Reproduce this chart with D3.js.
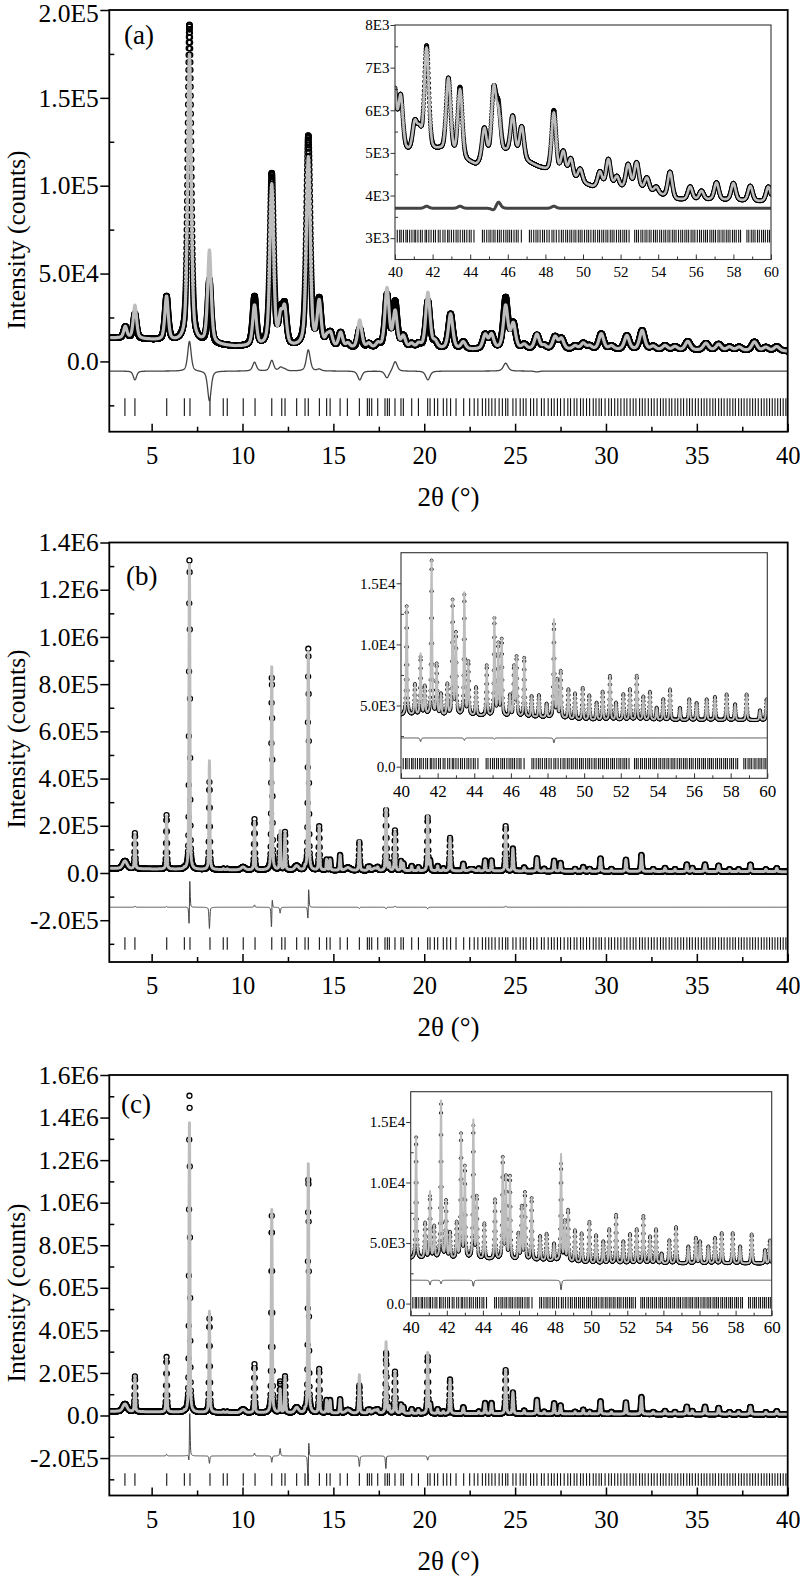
<!DOCTYPE html>
<html><head><meta charset="utf-8">
<script src="https://cdn.jsdelivr.net/npm/d3@7"></script>
<style>
body{margin:0;background:#fff}
svg{display:block}
svg text{font-family:"Liberation Serif","Times New Roman",Times,serif !important}
</style>
</head><body>
<svg id="chart" width="800" height="1582"></svg>
<script>
// ================= DATA =================
// Bragg reflection positions (2theta, deg), same phase in all panels
const braggMain = [3.53,4.08,5.83,6.80,7.11,8.21,8.94,9.16,10.04,10.69,11.61,12.16,12.34,12.98,13.44,13.62,14.23,14.63,14.82,15.37,15.77,16.43,16.87,16.98,17.11,17.44,17.84,17.97,18.08,18.39,18.72,18.85,19.31,19.68,20.19,20.32,20.56,20.74,21.05,21.24,21.45,21.75,22.17,22.5,22.75,22.95,23.2,23.38,23.55,23.72,23.9,24.12,24.3,24.48,24.6,24.88,25.05,25.28,25.45,25.6,25.85,26.02,26.2,26.45,26.6,26.82,27.0,27.15,27.33,27.5,27.7,27.9,28.05,28.25,28.4,28.6,28.75,28.93,29.1,29.3,29.45,29.62,29.75,29.95,30.15,30.3,30.48,30.65,30.82,31.0,31.15,31.33,31.5,31.65,31.85,32.0,32.15,32.33,32.5,32.65,32.82,33.0,33.15,33.3,33.48,33.62,33.8,33.95,34.12,34.27,34.45,34.6,34.75,34.92,35.08,35.25,35.4,35.55,35.72,35.88,36.02,36.2,36.35,36.5,36.67,36.82,36.98,37.12,37.3,37.45,37.6,37.76,37.92,38.07,38.22,38.38,38.55,38.7,38.85,39.0,39.15,39.3,39.45,39.6,39.75,39.9];
const braggInset = [40.12,40.25,40.33,40.45,40.58,40.66,40.78,40.9,41.02,41.1,41.22,41.35,41.45,41.6,41.68,41.8,41.92,42.05,42.15,42.3,42.4,42.55,42.66,42.8,42.88,43.0,43.12,43.25,43.35,43.47,43.6,43.7,43.82,43.95,44.05,44.2,44.65,44.75,44.88,45.0,45.1,45.22,45.32,45.45,45.55,45.65,45.78,45.9,46.0,46.1,46.2,46.33,46.45,46.55,46.72,47.15,47.25,47.38,47.5,47.6,47.72,47.85,47.95,48.08,48.2,48.35,48.45,48.58,48.72,48.85,48.95,49.08,49.18,49.3,49.4,49.52,49.62,49.75,49.85,49.95,50.08,50.2,50.3,50.42,50.55,50.65,50.78,50.88,51.0,51.1,51.22,51.32,51.45,51.55,51.65,51.78,51.9,52.0,52.12,52.22,52.32,52.45,52.75,52.85,52.95,53.08,53.18,53.3,53.4,53.52,53.62,53.75,53.85,53.95,54.08,54.18,54.3,54.4,54.52,54.62,54.75,54.85,54.95,55.08,55.2,55.3,55.42,55.52,55.62,55.75,55.85,55.95,56.08,56.2,56.3,56.42,56.52,56.62,56.75,56.85,56.95,57.05,57.18,57.28,57.4,57.5,57.62,57.72,57.82,57.95,58.05,58.15,58.28,58.38,58.72,58.82,58.95,59.05,59.15,59.28,59.38,59.5,59.6,59.7,59.82,59.92];

// ---- Panel (a) main: background + peaks (counts above background)
const bgA_x = [2.67, 4.9, 6.5, 9.6, 12, 16, 22.6, 30, 35, 40];
const bgA_y = [13500, 12300, 10800, 8300, 7800, 7000, 6600, 6500, 6200, 5800];
const peakPosA  = [3.55,4.08,5.82,7.08,8.18,10.66,11.61,12.1,12.32,13.62,14.22,14.65,14.85,15.4,15.8,16.45,16.95,17.45,17.95,18.4,18.85,19.3,19.7,20.2,20.6,21.45,22.15,23.35,23.7,24.48,24.9,25.5,26.2,26.6,27.2,27.55,28.3,28.75,29.1,29.74,30.3,31.15,31.99,32.6,33.25,33.8,34.5,35.5,36.2,36.8,37.33,38.17,38.8,39.4];
const peakObsA  = [6500,14000,25000,181000,36000,28000,98000,17000,21000,120000,26000,5000,7000,8500,2500,11000,2500,2500,30000,26000,6500,2500,2500,27000,3500,20000,4000,8000,8000,29000,14000,2500,8000,2000,7000,6000,2000,3500,2000,9000,2000,8000,11000,2000,2500,2000,5000,4000,3500,2000,2000,5000,2000,2500];
const peakCalcA = [6500,19000,25000,164000,53000,23000,92000,15000,20000,108000,25000,5000,7000,8500,2500,16000,2500,2500,34000,20500,6500,2500,2500,32000,3500,20000,4000,8000,8000,24500,14000,2500,8500,2000,7000,6000,2000,3500,2000,9000,2000,8000,11000,2000,2500,2000,5000,4000,3500,2000,2000,5000,2000,2500];

// ---- Panel (a) inset 40-60
const bgIA_x = [40, 41, 42.4, 44.3, 45.9, 47.7, 50.5, 53, 55, 57, 60];
const bgIA_y = [5050, 5000, 5050, 4700, 5000, 4650, 4200, 4150, 3900, 3900, 3850];
const peakPosIA  = [39.95,40.3,41.05,41.3,41.68,42.84,43.46,44.75,45.25,45.5,46.26,46.74,48.45,48.95,49.35,49.85,50.9,51.35,51.8,52.4,52.85,53.4,53.9,54.63,55.7,56.3,57.1,58.0,58.9,59.86];
const peakObsIA  = [1500,1250,650,450,2450,1750,1650,750,1500,1050,900,750,1450,550,450,300,350,650,250,550,600,300,150,600,300,200,400,400,350,350];
const peakCalcIA = [1500,1250,650,450,2400,1750,1600,750,1550,900,900,750,1400,550,450,300,350,650,250,550,600,300,150,600,300,200,400,400,350,350];

// ---- Panel (b) main
const bgB_x = [2.67, 5, 10, 15, 20, 30, 40];
const bgB_y = [20000, 17000, 13000, 11000, 9000, 7000, 5500];
const peakPosB  = [4.08,5.82,6.8,7.08,8.18,8.95,9.16,10.66,11.61,12.07,12.34,13.44,13.62,14.22,14.63,14.82,15.37,16.43,16.9,17.0,17.44,17.9,18.08,18.39,18.72,18.85,19.31,19.68,20.19,20.32,20.74,21.05,21.42,22.15,23.0,23.35,23.7,24.48,24.88,25.5,26.2,26.6,27.15,27.5,28.3,28.75,29.1,29.7,30.3,31.1,31.95,32.6,33.25,33.8,34.45,34.75,35.45,36.2,36.8,37.3,37.95,38.8,39.4];
const peakObsB  = [150000,228000,5000,1320000,370000,4000,4000,215000,820000,140000,160000,12000,945000,185000,45000,45000,65000,120000,15000,15000,10000,255000,30000,170000,40000,30000,20000,15000,225000,40000,20000,10000,140000,30000,10000,45000,45000,190000,95000,15000,55000,10000,45000,35000,10000,18000,10000,55000,10000,50000,70000,10000,15000,10000,30000,15000,30000,25000,10000,10000,30000,10000,15000];
const peakCalcB = [145000,225000,5000,1290000,460000,4000,4000,205000,860000,165000,160000,12000,925000,185000,45000,45000,65000,125000,15000,15000,10000,262000,30000,165000,40000,30000,20000,15000,232000,40000,20000,10000,140000,30000,10000,45000,45000,185000,95000,15000,55000,10000,45000,35000,10000,18000,10000,55000,10000,50000,70000,10000,15000,10000,30000,15000,30000,25000,10000,10000,30000,10000,15000];
const shiftPosB = [7.08, 11.61, 13.62];
const shiftValB = [0.003, 0.003, 0.003];
const broadPosB = [3.53, 10.03, 12.98, 15.8, 17.3, 22.6];
const broadHB   = [32000, 12000, 18000, 12000, 10000, 8000];
const broadWB   = [0.28, 0.25, 0.25, 0.3, 0.3, 0.3];

// ---- Panel (b) inset 40-60
const bgIB_x = [40, 44, 48, 50, 55, 60];
const bgIB_y = [4200, 4150, 4000, 3800, 3800, 3800];
const peakPosIB  = [40.31,40.76,41.07,41.3,41.67,41.95,42.18,42.53,42.82,43.0,43.46,43.68,44.1,44.68,45.1,45.31,45.5,45.95,46.17,46.31,46.73,47.13,47.53,47.95,48.35,48.53,48.72,49.14,49.5,49.92,50.28,50.68,51.01,51.41,51.74,52.14,52.5,52.87,53.23,53.59,53.96,54.32,54.69,55.23,55.74,56.14,56.69,57.14,57.78,58.24,58.87,59.6,59.96];
const peakObsIB  = [8900,2500,4700,2300,12600,4100,1700,2500,9300,6600,9800,4300,2300,4100,7900,5800,6200,1700,4000,4800,4800,1700,1800,1100,7600,3000,3800,2400,2100,2600,2000,1400,2300,3600,1400,2100,2500,3600,1900,2300,1000,1700,2500,1000,1700,1400,1700,1900,2100,1300,2100,800,1700];
const peakCalcIB = [8900,2500,5000,2300,12600,4100,1700,2500,9300,6600,10000,4300,2300,4100,8000,5800,6200,1700,4000,4800,4800,1700,1800,1100,8000,3000,3800,2400,2100,2600,2000,1400,2300,3600,1400,2100,2500,3600,1900,2300,1000,1700,2500,1000,1700,1400,1700,1900,2100,1300,2100,800,1700];

// ---- Panel (c) main
const bgC_x = [2.67, 5, 10, 15, 20, 30, 40];
const bgC_y = [20000, 17000, 13000, 11000, 9000, 7000, 5500];
const peakPosC  = peakPosB;
const peakObsC  = [165000,258000,5000,1500000,440000,4000,4000,228000,925000,145000,170000,12000,1110000,205000,60000,60000,65000,130000,15000,15000,10000,285000,30000,195000,40000,30000,20000,15000,265000,40000,20000,10000,160000,30000,10000,50000,50000,205000,100000,15000,65000,10000,50000,40000,10000,20000,10000,60000,10000,55000,80000,10000,15000,10000,35000,15000,35000,30000,10000,10000,35000,10000,15000];
const peakCalcC = [165000,250000,5000,1360000,475000,4000,4000,215000,955000,110000,170000,12000,1170000,205000,60000,60000,65000,180000,15000,15000,10000,335000,30000,195000,40000,30000,20000,15000,285000,40000,20000,10000,160000,30000,10000,50000,50000,205000,100000,15000,65000,10000,50000,40000,10000,20000,10000,60000,10000,55000,80000,10000,15000,10000,35000,15000,35000,30000,10000,10000,35000,10000,15000];
const shiftPosC = [7.08, 13.62, 17.9];
const shiftValC = [0.003, 0.004, 0.003];
const broadPosC = [3.53, 10.03, 12.98, 15.8, 17.3];
const broadHC   = [35000, 15000, 25000, 15000, 15000];
const broadWC   = [0.28, 0.25, 0.25, 0.3, 0.3];

// ---- Panel (c) inset 40-60
const bgIC_x = [40, 44, 48, 50, 55, 60];
const bgIC_y = [3700, 3650, 3500, 3300, 3300, 3300];
const peakPosIC  = [40.3,40.8,41.07,41.3,41.68,41.96,42.18,42.55,42.79,43.0,43.47,43.66,44.08,44.67,45.1,45.28,45.5,45.97,46.15,46.33,46.7,47.17,47.53,47.94,48.33,48.53,48.72,49.1,49.47,49.9,50.27,50.67,51.0,51.38,51.78,52.15,52.52,52.89,53.26,53.59,53.9,54.33,54.7,55.38,55.8,56.03,56.49,56.86,57.23,57.84,58.25,58.89,59.63,59.9];
const peakObsIC  = [10000,2900,5100,2600,12700,4700,2100,2900,10200,7500,10900,5000,2900,4900,8300,6700,6800,2100,4300,5500,5100,2000,2200,1400,8000,3200,4200,2600,2400,3400,2300,1800,2800,4000,1800,2400,2800,3900,2200,2800,800,1900,3000,1400,2100,1800,1400,2100,2500,2500,1400,2400,1100,1900];
const peakCalcIC = [10000,2900,5500,2600,13000,4700,2100,2900,10200,7500,11400,5000,2900,4900,8300,6700,6800,2100,4300,5500,5100,2000,2200,1400,8800,3200,4200,2600,2400,3400,2300,1800,2800,4000,1800,2400,2800,3900,2200,2800,800,1900,3000,1400,2100,1800,1400,2100,2500,2500,1400,2400,1100,1900];

// ---- Axis tick values
const xTicksMain  = [5,10,15,20,25,30,35,40];
const xMinorMain  = [7.5,12.5,17.5,22.5,27.5,32.5,37.5];
const xTicksInset = [40,42,44,46,48,50,52,54,56,58,60];
const xMinorInset = [41,43,45,47,49,51,53,55,57,59];
const yTicksA  = [0,5e4,1e5,1.5e5,2e5];
const yMinorA  = [-2.5e4,2.5e4,7.5e4,1.25e5,1.75e5];
const yTicksB  = [-2e5,0,2e5,4e5,6e5,8e5,1e6,1.2e6,1.4e6];
const yMinorB  = [-3e5,-1e5,1e5,3e5,5e5,7e5,9e5,1.1e6,1.3e6];
const yTicksC  = [-2e5,0,2e5,4e5,6e5,8e5,1e6,1.2e6,1.4e6,1.6e6];
const yMinorC  = [-3e5,-1e5,1e5,3e5,5e5,7e5,9e5,1.1e6,1.3e6,1.5e6];
const yTicksIA = [3e3,4e3,5e3,6e3,7e3,8e3];
const yMinorIA = [3.5e3,4.5e3,5.5e3,6.5e3,7.5e3];
const yTicksIBC = [0,5e3,1e4,1.5e4];
const yMinorIBC = [2.5e3,7.5e3,1.25e4];

// ================= DRAWING =================
const FONT = '"Liberation Serif","Times New Roman",Times,serif';
const svg = d3.select('#chart');
const defs = svg.append('defs');

function pv(x, x0, w, eta){
  const d = (x - x0) / w, d2 = d * d;
  return eta / (1 + 4 * d2) + (1 - eta) * Math.exp(-2.7725887 * d2);
}

function buildPattern(o){
  const bg = d3.scaleLinear().domain(o.bgX).range(o.bgY).clamp(true);
  const n = Math.round((o.xmax - o.xmin) / o.step);
  const shifts = new Map((o.shiftPos || []).map((p, i) => [p, o.shiftVal[i]]));
  const pts = [];
  for (let i = 0; i <= n; i++){
    const x = o.xmin + i * o.step;
    let yo = bg(x), yc = bg(x);
    for (let k = 0; k < o.pos.length; k++){
      const p = o.pos[k];
      if (Math.abs(x - p) > 4) continue;
      const w = o.fwhm(p), s = shifts.get(p) || 0;
      yo += o.obs[k] * pv(x, p + s, w, o.eta);
      yc += o.calc[k] * pv(x, p, w, o.eta);
    }
    if (o.broadPos){
      for (let k = 0; k < o.broadPos.length; k++){
        const v = o.broadH[k] * pv(x, o.broadPos[k], o.broadW[k], 0.3);
        yo += v; yc += v;
      }
    }
    pts.push({x: x, obs: yo, calc: yc});
  }
  return pts;
}

function fmtE(digits){
  return v => {
    if (v === 0) return digits > 0 ? '0.' + '0'.repeat(digits) : '0';
    const e = Math.floor(Math.log10(Math.abs(v)) + 1e-9);
    const m = v / Math.pow(10, e);
    return m.toFixed(digits) + 'E' + e;
  };
}

let clipN = 0;
function drawPanel(P){
  const g = svg.append('g');
  const x = d3.scaleLinear().domain(P.xDomain).range([P.left, P.right]);
  const y = d3.scaleLinear().domain(P.yDomain).range([P.bottom, P.top]);
  const cid = 'clip' + (clipN++);
  defs.append('clipPath').attr('id', cid).append('rect')
    .attr('x', P.left).attr('y', P.top).attr('width', P.right - P.left).attr('height', P.bottom - P.top);

  if (P.inset){
    g.append('rect').attr('x', P.left).attr('y', P.top)
      .attr('width', P.right - P.left).attr('height', P.bottom - P.top).attr('fill', '#fff');
  }
  const data = buildPattern(P.pattern);
  const plot = g.append('g').attr('clip-path', `url(#${cid})`);

  // Bragg positions
  plot.append('g').selectAll('line')
    .data(P.bragg.filter(d => d >= P.xDomain[0] && d <= P.xDomain[1]))
    .join('line')
    .attr('x1', d => x(d)).attr('x2', d => x(d))
    .attr('y1', y(P.braggLo)).attr('y2', y(P.braggHi))
    .attr('stroke', '#111').attr('stroke-width', P.braggW);

  // observed circles
  plot.append('g').selectAll('circle').data(data).join('circle')
    .attr('cx', d => x(d.x)).attr('cy', d => y(d.obs)).attr('r', P.r)
    .attr('fill', 'none').attr('stroke', '#000').attr('stroke-width', P.rw);

  // calculated line
  plot.append('path').datum(data)
    .attr('d', d3.line().x(d => x(d.x)).y(d => y(d.calc)))
    .attr('fill', 'none').attr('stroke', '#bdbdbd').attr('stroke-width', P.calcW)
    .attr('stroke-linejoin', 'round');

  // difference line
  plot.append('path').datum(data)
    .attr('d', d3.line().x(d => x(d.x)).y(d => y(d.obs - d.calc + P.diffOffset)))
    .attr('fill', 'none').attr('stroke', P.diffColor).attr('stroke-width', P.diffW);

  // frame
  g.append('rect').attr('x', P.left).attr('y', P.top)
    .attr('width', P.right - P.left).attr('height', P.bottom - P.top)
    .attr('fill', 'none').attr('stroke', P.frameColor).attr('stroke-width', P.frameW);

  const styleAxis = (a, fs) => {
    a.select('.domain').remove();
    a.attr('font-family', FONT).attr('font-size', fs);
    a.selectAll('text').attr('fill', '#000').style('font-family', FONT);
    a.selectAll('line').attr('stroke', P.frameColor).attr('stroke-width', P.tickW);
  };

  // y axis major (outward) and minor (inward)
  const yAxisG = g.append('g').attr('transform', `translate(${P.left},0)`)
    .call(d3.axisLeft(y).tickValues(P.yTicks).tickFormat(P.yFmt).tickSize(P.yMajor).tickPadding(P.yPad))
    .call(a => styleAxis(a, P.yFs));
  if (P.topLabelDy){
    yAxisG.selectAll('.tick').filter(d => d === P.yDomain[1]).select('text').attr('dy', P.topLabelDy);
  }
  g.append('g').attr('transform', `translate(${P.left},0)`)
    .call(d3.axisLeft(y).tickValues(P.yMinor).tickFormat('').tickSize(-P.yMinorLen))
    .call(a => styleAxis(a, P.yFs));

  // x axis major & minor (inward)
  g.append('g').attr('transform', `translate(0,${P.bottom})`)
    .call(d3.axisBottom(x).tickValues(P.xTicks).tickFormat(d3.format('d')).tickSize(-P.xMajor).tickPadding(P.xPad))
    .call(a => styleAxis(a, P.xFs));
  g.append('g').attr('transform', `translate(0,${P.bottom})`)
    .call(d3.axisBottom(x).tickValues(P.xMinor).tickFormat('').tickSize(-P.xMinorLen))
    .call(a => styleAxis(a, P.xFs));

  if (P.label){
    g.append('text').attr('x', P.labelX).attr('y', P.labelY)
      .attr('font-family', FONT).attr('font-size', 27).attr('fill', '#000').text(P.label);
  }
  if (P.yTitle){
    g.append('text').attr('transform', `translate(${P.yTitleX},${P.yTitleY}) rotate(-90)`)
      .attr('text-anchor', 'middle').attr('font-family', FONT).attr('font-size', 25.5).attr('fill', '#000')
      .text(P.yTitle);
  }
  if (P.xTitle){
    g.append('text').attr('x', (P.left + P.right) / 2).attr('y', P.bottom + P.xTitleDy)
      .attr('text-anchor', 'middle').attr('font-family', FONT).attr('font-size', 27).attr('fill', '#000')
      .text(P.xTitle);
  }
}

const MAIN_LEFT = 109.3, MAIN_RIGHT = 787.7;
const mainStyle = {
  xDomain: [2.67, 40], left: MAIN_LEFT, right: MAIN_RIGHT,
  bragg: braggMain, braggW: 1.1,
  frameColor: '#000', frameW: 1.8, tickW: 1.5,
  yMajor: 9, yMinorLen: 5, yPad: 1.5, yFs: 25.5,
  xTicks: xTicksMain, xMinor: xMinorMain, xMajor: 8, xMinorLen: 5, xPad: 15, xFs: 24.5,
  diffColor: '#444',
  xTitle: '2\u03B8 (\u00B0)', xTitleDy: 74, yTitle: 'Intensity (counts)', yTitleX: 25
};
const insetStyle = {
  xDomain: [40, 60], inset: true, bragg: braggInset, braggW: 1.1,
  frameColor: '#333', frameW: 1.1, tickW: 1,
  yMajor: 4.5, yMinorLen: 3, yPad: 1, yFs: 15,
  xTicks: xTicksInset, xMinor: xMinorInset, xMajor: 5, xMinorLen: 3, xFs: 16,
  diffColor: '#444'
};

// ---------- Panel (a)
drawPanel(Object.assign({}, mainStyle, {
  top: 10, bottom: 431.7, yDomain: [-40000, 200000],
  yTicks: yTicksA, yMinor: yMinorA, yFmt: fmtE(1), topLabelDy: '0.45em',
  label: '(a)', labelX: 124, labelY: 44, yTitleY: 240,
  r: 2.6, rw: 1.3, calcW: 3.2, diffW: 1.3, diffOffset: -5500, braggLo: -31000, braggHi: -21000,
  pattern: {xmin: 2.67, xmax: 40, step: 0.005, bgX: bgA_x, bgY: bgA_y,
    pos: peakPosA, obs: peakObsA, calc: peakCalcA, fwhm: p => 0.2 + 0.004 * p, eta: 0.5}
}));
drawPanel(Object.assign({}, insetStyle, {
  left: 395, right: 771, top: 25, bottom: 259.5, yDomain: [2500, 8000],
  yTicks: yTicksIA, yMinor: yMinorIA, yFmt: fmtE(0), xPad: 7, xFs: 15,
  r: 1.9, rw: 1, calcW: 2.6, diffW: 3, diffOffset: 3700, braggLo: 2900, braggHi: 3200,
  pattern: {xmin: 40, xmax: 60, step: 0.01, bgX: bgIA_x, bgY: bgIA_y,
    pos: peakPosIA, obs: peakObsIA, calc: peakCalcIA, fwhm: p => 0.28, eta: 0.3}
}));

// ---------- Panel (b)
drawPanel(Object.assign({}, mainStyle, {
  top: 542.5, bottom: 962, yDomain: [-377000, 1400000],
  yTicks: yTicksB, yMinor: yMinorB, yFmt: fmtE(1),
  label: '(b)', labelX: 126, labelY: 585, yTitleY: 739,
  r: 2.5, rw: 1.3, calcW: 3, diffW: 1, diffOffset: -145000, braggLo: -325000, braggHi: -272000,
  pattern: {xmin: 2.67, xmax: 40, step: 0.01, bgX: bgB_x, bgY: bgB_y,
    pos: peakPosB, obs: peakObsB, calc: peakCalcB, fwhm: p => 0.055 + 0.0005 * p, eta: 0.5,
    shiftPos: shiftPosB, shiftVal: shiftValB, broadPos: broadPosB, broadH: broadHB, broadW: broadWB}
}));
drawPanel(Object.assign({}, insetStyle, {
  left: 401, right: 767.3, top: 552.7, bottom: 778.3, yDomain: [-950, 17500],
  yTicks: yTicksIBC, yMinor: yMinorIBC, yFmt: fmtE(1), xPad: 7, xFs: 17,
  r: 1.5, rw: 0.8, calcW: 2, diffW: 1, diffOffset: 2350, braggLo: -200, braggHi: 700,
  pattern: {xmin: 40, xmax: 60, step: 0.01, bgX: bgIB_x, bgY: bgIB_y,
    pos: peakPosIB, obs: peakObsIB, calc: peakCalcIB, fwhm: p => 0.075, eta: 0.5}
}));

// ---------- Panel (c)
drawPanel(Object.assign({}, mainStyle, {
  top: 1075, bottom: 1495.5, yDomain: [-376000, 1600000],
  yTicks: yTicksC, yMinor: yMinorC, yFmt: fmtE(1),
  label: '(c)', labelX: 121, labelY: 1113, yTitleY: 1293,
  r: 2.5, rw: 1.3, calcW: 3, diffW: 1, diffOffset: -190000, braggLo: -330000, braggHi: -272000,
  pattern: {xmin: 2.67, xmax: 40, step: 0.01, bgX: bgC_x, bgY: bgC_y,
    pos: peakPosC, obs: peakObsC, calc: peakCalcC, fwhm: p => 0.055 + 0.0005 * p, eta: 0.5,
    shiftPos: shiftPosC, shiftVal: shiftValC, broadPos: broadPosC, broadH: broadHC, broadW: broadWC}
}));
drawPanel(Object.assign({}, insetStyle, {
  left: 410.7, right: 771.7, top: 1091.7, bottom: 1315.7, yDomain: [-1000, 17500],
  yTicks: yTicksIBC, yMinor: yMinorIBC, yFmt: fmtE(1), xPad: 5, xFs: 17,
  r: 1.5, rw: 0.8, calcW: 2, diffW: 1, diffOffset: 1930, braggLo: -400, braggHi: 550,
  pattern: {xmin: 40, xmax: 60, step: 0.01, bgX: bgIC_x, bgY: bgIC_y,
    pos: peakPosIC, obs: peakObsIC, calc: peakCalcIC, fwhm: p => 0.075, eta: 0.5}
}));
</script>
</body></html>
